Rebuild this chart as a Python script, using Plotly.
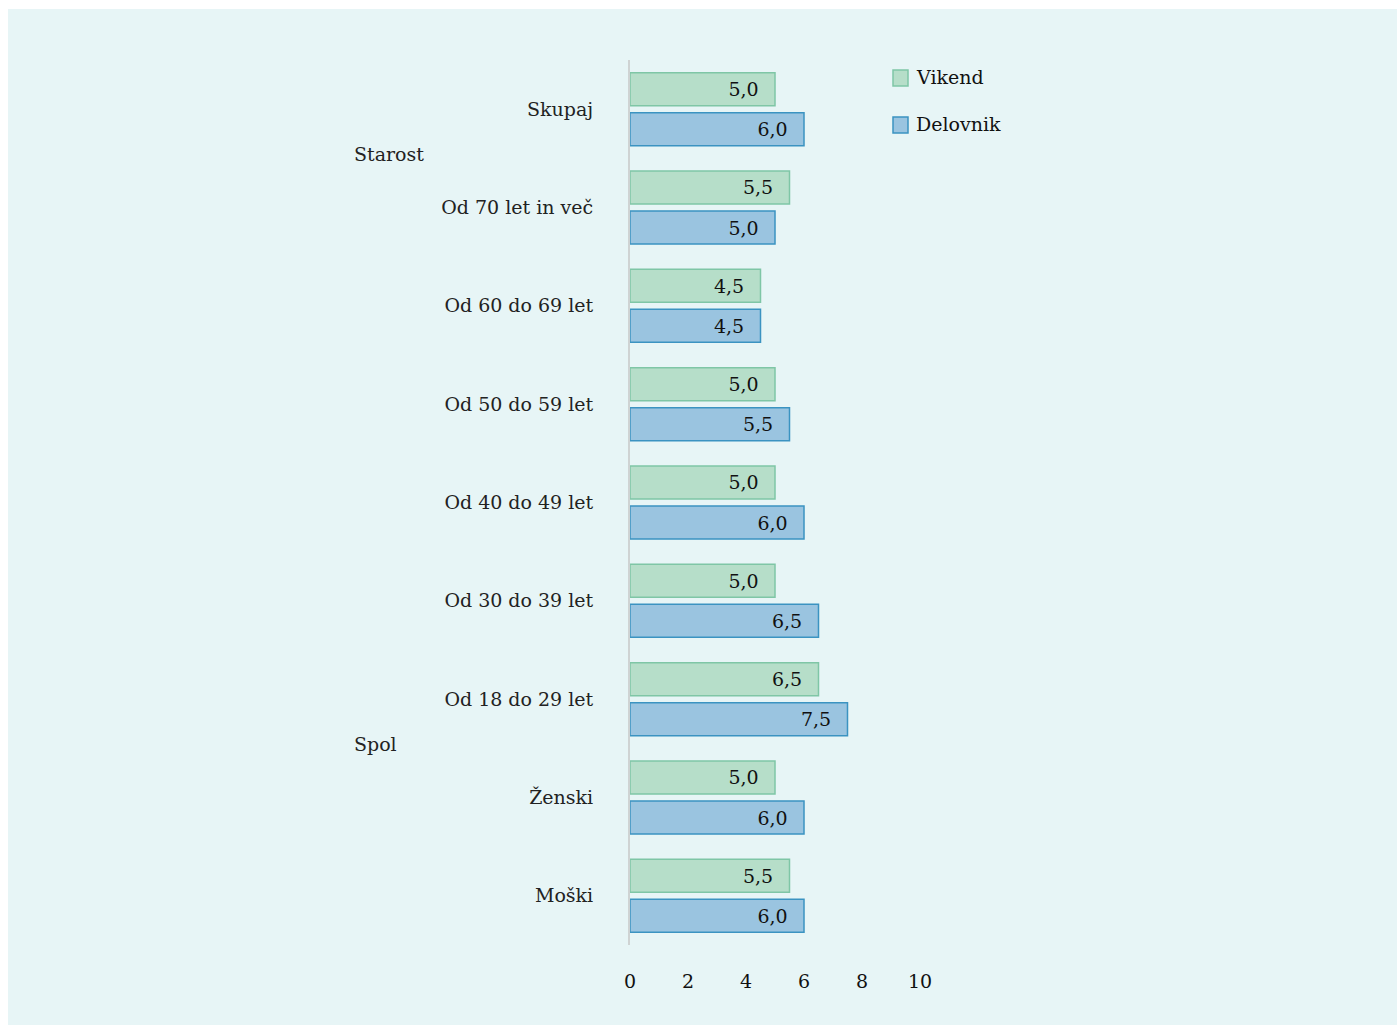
import plotly.graph_objects as go

categories = ["Skupaj", "Od 70 let in več", "Od 60 do 69 let", "Od 50 do 59 let",
              "Od 40 do 49 let", "Od 30 do 39 let", "Od 18 do 29 let", "Ženski", "Moški"]
vikend = [5.0, 5.5, 4.5, 5.0, 5.0, 5.0, 6.5, 5.0, 5.5]
delovnik = [6.0, 5.0, 4.5, 5.5, 6.0, 6.5, 7.5, 6.0, 6.0]
group_labels = [("Starost", 0.5), ("Spol", 6.5)]
series_names = ["Vikend", "Delovnik"]
x_ticks = [0, 2, 4, 6, 8, 10]

W, H = 1397, 1025
L, R, T, B = 630, 920, 60, 945
FONT = "DejaVu Serif"
BG = "#e7f5f6"
FILLS = ["#b6dec9", "#9ac4e0"]
LINES = ["#7fc6a6", "#3b93c1"]
PAD = "\u2002\u2009"

def fmt(v):
    return f"{v:.1f}".replace(".", ",") + PAD

def px_x(px):
    return (px - L) / (R - L)

def px_y(py):
    return (B - py) / (B - T)

fig = go.Figure()
for name, vals, fc, lc in zip(series_names, [vikend, delovnik], FILLS, LINES):
    fig.add_trace(go.Bar(
        y=categories, x=vals, orientation="h", name=name,
        marker=dict(color=fc, line=dict(color=lc, width=1.5)),
        text=[fmt(v) for v in vals], textposition="inside", insidetextanchor="end",
        textfont=dict(color="#111111", size=19, family=FONT),
        hoverinfo="x+y", showlegend=False,
    ))

shapes = [dict(type="rect", xref="paper", yref="paper",
               x0=px_x(8), x1=px_x(W + 5), y0=px_y(9), y1=px_y(H + 5),
               fillcolor=BG, line=dict(width=0), layer="below")]

annotations = []
for lab, pos in group_labels:
    py = T + (pos + 0.5) * (B - T) / len(categories)
    annotations.append(dict(text=lab, xref="paper", yref="paper", x=px_x(352), y=px_y(py - 4),
                            xanchor="left", yanchor="middle", showarrow=False,
                            font=dict(family=FONT, size=19, color="#222222")))

# manual legend
for i, (name, fc, lc) in enumerate(zip(series_names, FILLS, LINES)):
    cy = 78 + i * 47
    shapes.append(dict(type="rect", xref="paper", yref="paper",
                       x0=px_x(893), x1=px_x(908), y0=px_y(cy - 8), y1=px_y(cy + 8),
                       fillcolor=fc, line=dict(color=lc, width=1.5), layer="above"))
    annotations.append(dict(text=name, xref="paper", yref="paper", x=px_x(914), y=px_y(cy - 1),
                            xanchor="left", yanchor="middle", showarrow=False,
                            font=dict(family=FONT, size=19, color="#111111")))

fig.update_layout(
    width=W, height=H,
    margin=dict(l=L, r=W - R, t=T, b=H - B),
    paper_bgcolor="white", plot_bgcolor="rgba(0,0,0,0)",
    barmode="group", bargap=0.186, bargroupgap=0.175,
    font=dict(family=FONT, size=19, color="#222222"),
    showlegend=False,
    xaxis=dict(range=[0, 10], tickvals=x_ticks, ticktext=[str(t) for t in x_ticks],
               showgrid=False, zeroline=False, showline=False,
               ticks="", ticklabelstandoff=23,
               tickfont=dict(family=FONT, size=19, color="#111111")),
    yaxis=dict(categoryorder="array", categoryarray=categories, autorange="reversed",
               showgrid=False, zeroline=False, showline=True, linecolor="#cfd3d3", linewidth=2,
               ticks="", ticklabelstandoff=31,
               tickfont=dict(family=FONT, size=19, color="#222222")),
    shapes=shapes, annotations=annotations,
)

fig.write_html("out.html")
